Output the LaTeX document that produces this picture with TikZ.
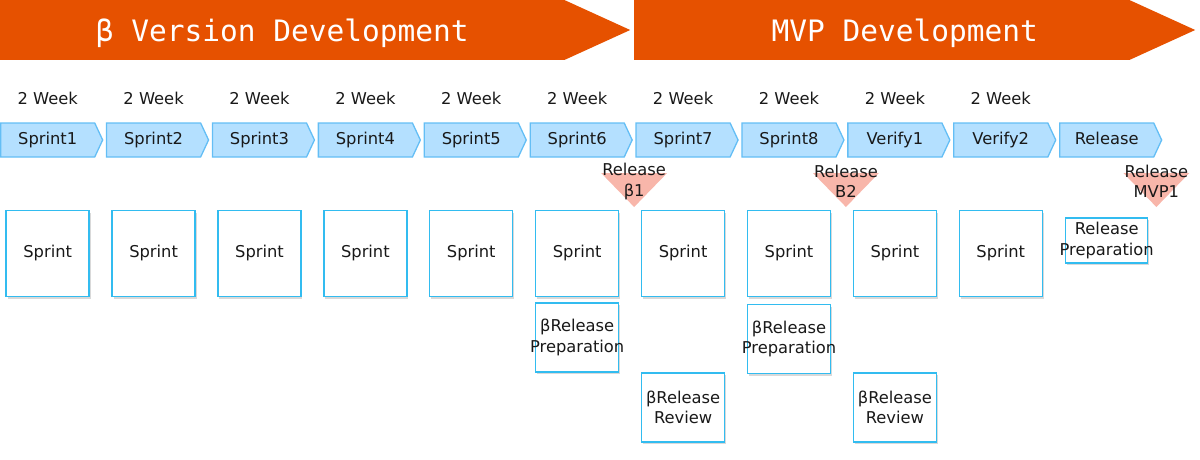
\documentclass[tikz,border=0pt]{standalone}
\usepackage{fontspec}
\setmainfont{DejaVu Sans}
\newfontfamily\bannerfont{DejaVu Sans Mono}
\usetikzlibrary{positioning, calc, shapes.symbols, shadows}

\definecolor{bannerorange}{RGB}{230,81,0}
\definecolor{chevfill}{RGB}{180,224,255}
\definecolor{chevline}{RGB}{100,190,245}
\definecolor{boxline}{RGB}{50,188,240}
\definecolor{relpink}{RGB}{248,182,170}
\definecolor{txtgray}{RGB}{25,25,25}

\begin{document}
\begin{tikzpicture}[x=1pt,y=-1pt,on grid,
	every node/.style={font=\fontsize{16.3}{20.5}\selectfont, text=txtgray},
	phase/.style={signal, signal to=east, signal pointer angle=49, fill=bannerorange, text=white,
		font=\bannerfont\fontsize{29.5}{30}\selectfont, minimum height=60pt, inner sep=0pt, text depth=0pt},
	chevron/.style={signal, signal to=east, signal pointer angle=130, draw=chevline, fill=chevfill,
		line width=1.3pt, minimum width=102pt, minimum height=34pt, inner sep=0pt, text height=12pt, text depth=4pt},
	task/.style={draw=boxline, line width=1.4pt, fill=white, minimum width=83pt, minimum height=86pt,
		align=center, inner sep=0pt, drop shadow={shadow xshift=1.5pt, shadow yshift=-2pt, opacity=.3}},
	relmark/.style={fill=relpink},
	reltext/.style={align=center}]
	
	\useasboundingbox (0,0) rectangle (1200,460);
	
	%Phases
	\node[phase, minimum width=630pt, anchor=west] (betadev) at (0,30) {β Version Development};
	\node[phase, minimum width=561pt, anchor=west] (mvpdev) at (634,30) {\hspace*{46pt}MVP Development};
	
	%Sprint arrows
	\node[chevron, anchor=west] (sp1) at (0,140) {Sprint1};
	\node[chevron, right=105.9pt of sp1] (sp2) {Sprint2};
	\node[chevron, right=105.9pt of sp2] (sp3) {Sprint3};
	\node[chevron, right=105.9pt of sp3] (sp4) {Sprint4};
	\node[chevron, right=105.9pt of sp4] (sp5) {Sprint5};
	\node[chevron, right=105.9pt of sp5] (sp6) {Sprint6};
	\node[chevron, right=105.9pt of sp6] (sp7) {Sprint7};
	\node[chevron, right=105.9pt of sp7] (sp8) {Sprint8};
	\node[chevron, right=105.9pt of sp8] (sp9) {Verify1};
	\node[chevron, right=105.9pt of sp9] (sp10) {Verify2};
	\node[chevron, right=105.9pt of sp10] (sp11) {Release};
	
	%Durations
	\node[above=42pt of sp1] (wk1) {2 Week};
	\node[above=42pt of sp2] (wk2) {2 Week};
	\node[above=42pt of sp3] (wk3) {2 Week};
	\node[above=42pt of sp4] (wk4) {2 Week};
	\node[above=42pt of sp5] (wk5) {2 Week};
	\node[above=42pt of sp6] (wk6) {2 Week};
	\node[above=42pt of sp7] (wk7) {2 Week};
	\node[above=42pt of sp8] (wk8) {2 Week};
	\node[above=42pt of sp9] (wk9) {2 Week};
	\node[above=42pt of sp10] (wk10) {2 Week};
	
	%Tasks
	\node[task, below=113.5pt of sp1] (tk1) {Sprint};
	\node[task, below=113.5pt of sp2] (tk2) {Sprint};
	\node[task, below=113.5pt of sp3] (tk3) {Sprint};
	\node[task, below=113.5pt of sp4] (tk4) {Sprint};
	\node[task, below=113.5pt of sp5] (tk5) {Sprint};
	\node[task, below=113.5pt of sp6] (tk6) {Sprint};
	\node[task, below=113.5pt of sp7] (tk7) {Sprint};
	\node[task, below=113.5pt of sp8] (tk8) {Sprint};
	\node[task, below=113.5pt of sp9] (tk9) {Sprint};
	\node[task, below=113.5pt of sp10] (tk10) {Sprint};
	\node[task, minimum height=69pt, below=84pt of tk6] (prep1) {βRelease\\\makebox[0pt]{Preparation}};
	\node[task, minimum height=69pt, below=154pt of tk7] (rev1) {βRelease\\Review};
	\node[task, minimum height=69pt, below=85.5pt of tk8] (prep2) {βRelease\\\makebox[0pt]{Preparation}};
	\node[task, minimum height=69pt, below=154pt of tk9] (rev2) {βRelease\\Review};
	\node[task, minimum width=82pt, minimum height=45pt, below=100.5pt of sp11] (prep3) {Release\\\makebox[0pt]{Preparation}};
	
	%Releases
	\coordinate (rel1) at ($(sp6.east)!0.5!(sp7.west)+(0,33)$);
	\coordinate (rel2) at ($(sp8.east)!0.5!(sp9.west)+(0,33)$);
	\coordinate (rel3) at ($(sp11.east)+(-6,33)$);
	\fill[relmark] (rel1) ++(-33,0) -- ++(66,0) -- ++(-33,34) -- cycle;
	\fill[relmark] (rel2) ++(-33,0) -- ++(66,0) -- ++(-33,34) -- cycle;
	\fill[relmark] (rel3) ++(-33,0) -- ++(66,0) -- ++(-33,34) -- cycle;
	\node[reltext] (relt1) at ($(rel1)+(0,8.5)$) {Release\\β1};
	\node[reltext] (relt2) at ($(rel2)+(0,8.5)$) {Release\\B2};
	\node[reltext] (relt3) at ($(rel3)+(0,8.5)$) {Release\\MVP1};
	
\end{tikzpicture}
\end{document}
